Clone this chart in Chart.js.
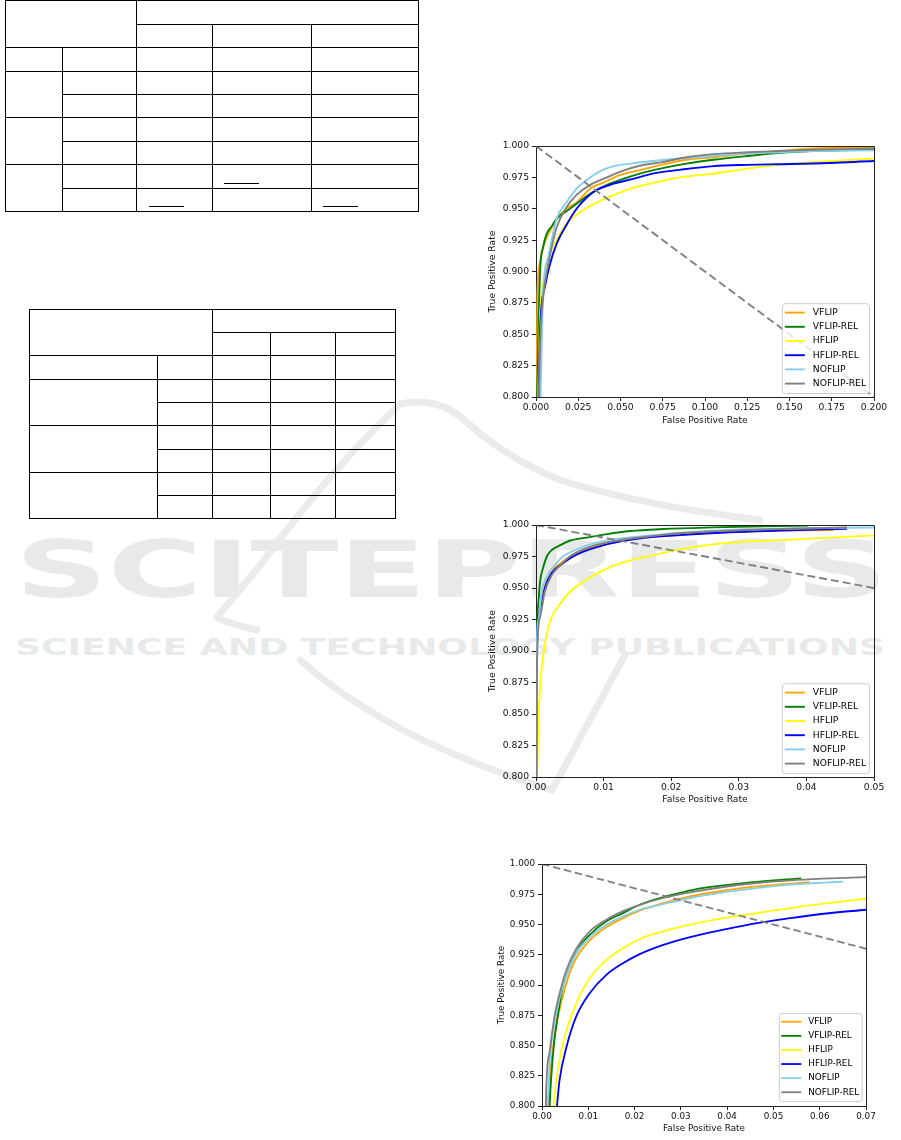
<!DOCTYPE html>
<html>
<head>
<meta charset="utf-8">
<script src="https://cdn.jsdelivr.net/npm/chart.js@4.4.1/dist/chart.umd.min.js"></script>
<style>
  body { margin: 0; width: 901px; height: 1140px; position: relative; overflow: hidden; background: #fff; font-family: "DejaVu Sans", sans-serif; }
  .wm { position: absolute; color: #e8eaea; white-space: nowrap; line-height: 1; transform-origin: 0 0; }
  #wmLogo { position: absolute; left: 0; top: 0; }
  .tbl { position: absolute; border-collapse: collapse; table-layout: fixed; }
  .tbl td { border: 1.5px solid #000; padding: 0; }
  .ul { position: absolute; height: 0; border-top: 1px solid #000; }
  .plot { position: absolute; }
</style>
</head>
<body>

<!-- publisher watermark -->
<svg id="wmLogo" width="901" height="1140">
  <g fill="none" stroke="#eaecec" stroke-width="7" stroke-linecap="round" stroke-linejoin="round">
    <path d="M257,630 Q222,622 217,617 L258,568 Q330,470 400,404 Q440,395 470,425 Q510,460 560,480 Q640,505 760,520"/>
    <path d="M300,660 Q390,740 552,790"/>
    <path d="M625,655 L552,790"/>
  </g>
</svg>
<div class="wm" id="wmBig" style="left:15px;top:531px;font-size:78px;font-weight:bold">SCITEPRESS</div>
<div class="wm" id="wmSmall" style="left:15px;top:635px;font-size:23.3px;font-weight:bold">SCIENCE AND TECHNOLOGY PUBLICATIONS</div>

<!-- table 1 -->
<table class="tbl" style="left:5px;top:0px">
  <colgroup><col style="width:57px"><col style="width:74px"><col style="width:76px"><col style="width:99px"><col style="width:107px"></colgroup>
  <tr style="height:24px"><td colspan="2" rowspan="2"></td><td colspan="3"></td></tr>
  <tr style="height:23px"><td></td><td></td><td></td></tr>
  <tr style="height:23.5px"><td></td><td></td><td></td><td></td><td></td></tr>
  <tr style="height:23.5px"><td rowspan="2"></td><td></td><td></td><td></td><td></td></tr>
  <tr style="height:23px"><td></td><td></td><td></td><td></td></tr>
  <tr style="height:24px"><td rowspan="2"></td><td></td><td></td><td></td><td></td></tr>
  <tr style="height:23px"><td></td><td></td><td></td><td></td></tr>
  <tr style="height:24px"><td rowspan="2"></td><td></td><td></td><td></td><td></td></tr>
  <tr style="height:23px"><td></td><td></td><td></td><td></td></tr>
</table>
<div class="ul" style="left:224px;top:183px;width:35px"></div>
<div class="ul" style="left:149px;top:206px;width:35px"></div>
<div class="ul" style="left:323px;top:206px;width:35px"></div>

<!-- table 2 -->
<table class="tbl" style="left:29px;top:309px">
  <colgroup><col style="width:128px"><col style="width:55px"><col style="width:58px"><col style="width:65px"><col style="width:60px"></colgroup>
  <tr style="height:23.3px"><td colspan="2" rowspan="2"></td><td colspan="3"></td></tr>
  <tr style="height:23px"><td></td><td></td><td></td></tr>
  <tr style="height:23.4px"><td></td><td></td><td></td><td></td><td></td></tr>
  <tr style="height:23.3px"><td rowspan="2"></td><td></td><td></td><td></td><td></td></tr>
  <tr style="height:23.3px"><td></td><td></td><td></td><td></td></tr>
  <tr style="height:23.7px"><td rowspan="2"></td><td></td><td></td><td></td><td></td></tr>
  <tr style="height:23.3px"><td></td><td></td><td></td><td></td></tr>
  <tr style="height:23px"><td rowspan="2"></td><td></td><td></td><td></td><td></td></tr>
  <tr style="height:23px"><td></td><td></td><td></td><td></td></tr>
</table>

<div class="plot" style="left:480px;top:130px"><canvas id="roc1" width="420" height="300"></canvas></div>
<div class="plot" style="left:480px;top:510px"><canvas id="roc2" width="420" height="300"></canvas></div>
<div class="plot" style="left:490px;top:850px"><canvas id="roc3" width="400" height="290"></canvas></div>

<script>
// series shared by all three plots
const seriesNames = ['VFLIP', 'VFLIP-REL', 'HFLIP', 'HFLIP-REL', 'NOFLIP', 'NOFLIP-REL'];
const seriesColors = ['#ffa500', '#008000', '#ffff00', '#0000ff', '#87ceeb', '#808080'];

// axis ticks
const tprTicks = [0.800, 0.825, 0.850, 0.875, 0.900, 0.925, 0.950, 0.975, 1.000];
const fprTicks1 = [0.000, 0.025, 0.050, 0.075, 0.100, 0.125, 0.150, 0.175, 0.200];
const fprTicks2 = [0.00, 0.01, 0.02, 0.03, 0.04, 0.05];
const fprTicks3 = [0.00, 0.01, 0.02, 0.03, 0.04, 0.05, 0.06, 0.07];

// dashed reference line (fpr, tpr)
const diagonal = [[0, 1], [1, 0]];

// plot 1 curves, [fpr, tpr]
const c1Vflip = [[0.0003,0.79],[0.0008,0.88],[0.002,0.905],[0.004,0.918],[0.0063,0.927],[0.0093,0.935],[0.0122,0.942],[0.018,0.950],[0.024,0.955],[0.032,0.966],[0.040,0.971],[0.050,0.977],[0.062,0.981],[0.074,0.985],[0.089,0.989],[0.105,0.991],[0.125,0.994],[0.144,0.996],[0.164,0.998],[0.2,0.999]];
const c1VflipRel = [[0.0005,0.79],[0.0014,0.85],[0.0024,0.90],[0.0043,0.92],[0.0063,0.930],[0.0093,0.936],[0.0122,0.942],[0.018,0.948],[0.024,0.954],[0.032,0.962],[0.042,0.969],[0.052,0.974],[0.064,0.979],[0.077,0.983],[0.089,0.986],[0.105,0.989],[0.125,0.992],[0.144,0.9945],[0.164,0.996],[0.2,0.997]];
const c1Hflip = [[0.0012,0.79],[0.0024,0.864],[0.0053,0.896],[0.0083,0.914],[0.0122,0.925],[0.018,0.938],[0.028,0.949],[0.036,0.955],[0.046,0.961],[0.058,0.967],[0.071,0.971],[0.085,0.975],[0.105,0.978],[0.125,0.982],[0.144,0.985],[0.164,0.987],[0.2,0.990]];
const c1HflipRel = [[0.0015,0.79],[0.0024,0.853],[0.0053,0.888],[0.0083,0.906],[0.0122,0.922],[0.018,0.937],[0.024,0.950],[0.030,0.959],[0.036,0.965],[0.046,0.970],[0.058,0.974],[0.069,0.978],[0.085,0.981],[0.105,0.984],[0.125,0.985],[0.144,0.9855],[0.164,0.986],[0.2,0.988]];
const c1Noflip = [[0.0025,0.79],[0.0043,0.885],[0.0073,0.912],[0.0122,0.942],[0.018,0.955],[0.024,0.966],[0.030,0.973],[0.038,0.980],[0.046,0.984],[0.056,0.986],[0.069,0.988],[0.085,0.990],[0.105,0.992],[0.125,0.994],[0.144,0.995],[0.164,0.996],[0.2,0.9965]];
const c1NoflipRel = [[0.0015,0.79],[0.0024,0.843],[0.0043,0.88],[0.0073,0.906],[0.0122,0.935],[0.018,0.951],[0.024,0.961],[0.032,0.969],[0.042,0.975],[0.052,0.9805],[0.062,0.9845],[0.074,0.987],[0.089,0.991],[0.105,0.9935],[0.125,0.995],[0.144,0.996],[0.164,0.997],[0.2,0.998]];

// plot 2 curves
const c2Vflip = [[0.00005,0.79],[0.0001,0.893],[0.0006,0.935],[0.0013,0.951],[0.0023,0.963],[0.0036,0.9695],[0.005,0.975],[0.007,0.980],[0.0095,0.9846],[0.0124,0.988],[0.0164,0.9907],[0.0213,0.9928],[0.0287,0.9944],[0.0361,0.9955],[0.044,0.996]];
const c2VflipRel = [[0.00005,0.79],[0.0001,0.90],[0.0003,0.935],[0.0006,0.955],[0.0011,0.967],[0.0016,0.975],[0.0023,0.980],[0.0036,0.984],[0.005,0.9875],[0.0075,0.990],[0.0105,0.9928],[0.0139,0.9952],[0.0188,0.9968],[0.0262,0.9981],[0.0336,0.999],[0.0403,0.9995]];
const c2Hflip = [[0.0001,0.79],[0.0002,0.81],[0.00035,0.842],[0.0006,0.8715],[0.0011,0.898],[0.0016,0.914],[0.0023,0.927],[0.0036,0.9377],[0.005,0.947],[0.007,0.955],[0.0095,0.963],[0.0124,0.9695],[0.0164,0.975],[0.0213,0.9807],[0.0262,0.9846],[0.031,0.9868],[0.036,0.988],[0.0435,0.990],[0.05,0.9918]];
const c2HflipRel = [[0.00005,0.79],[0.0001,0.90],[0.0006,0.932],[0.0013,0.950],[0.0023,0.9616],[0.0036,0.968],[0.005,0.9735],[0.007,0.9788],[0.0095,0.9833],[0.0124,0.9868],[0.0164,0.990],[0.0213,0.992],[0.0287,0.9942],[0.0361,0.9955],[0.046,0.997]];
const c2Noflip = [[0.00005,0.79],[0.0001,0.898],[0.00035,0.9245],[0.0008,0.9457],[0.0016,0.959],[0.0026,0.967],[0.004,0.975],[0.006,0.9807],[0.0085,0.9854],[0.0114,0.9886],[0.0149,0.9907],[0.0188,0.9928],[0.0238,0.9947],[0.031,0.9966],[0.0386,0.9974],[0.05,0.998]];
const c2NoflipRel = [[0.00005,0.79],[0.0001,0.88],[0.0006,0.927],[0.0013,0.947],[0.0023,0.960],[0.0036,0.968],[0.005,0.975],[0.007,0.9807],[0.0095,0.985],[0.0124,0.988],[0.0164,0.9907],[0.0213,0.9934],[0.0287,0.9955],[0.0361,0.9968],[0.046,0.998]];

// plot 3 curves
const c3Vflip = [[0.0013,0.79],[0.002,0.835],[0.0031,0.866],[0.0042,0.8863],[0.0056,0.9057],[0.0074,0.9222],[0.0103,0.9368],[0.0139,0.9479],[0.0175,0.9553],[0.0211,0.9614],[0.0262,0.9677],[0.032,0.9732],[0.0392,0.9779],[0.0464,0.9815],[0.0536,0.9837],[0.0578,0.985]];
const c3VflipRel = [[0.0015,0.79],[0.002,0.824],[0.0027,0.855],[0.0035,0.877],[0.0045,0.8988],[0.006,0.9153],[0.0082,0.932],[0.0103,0.9415],[0.0139,0.9526],[0.0175,0.9594],[0.0211,0.9663],[0.0247,0.971],[0.029,0.9754],[0.0334,0.9793],[0.0392,0.9823],[0.045,0.9848],[0.050,0.9865],[0.056,0.988]];
const c3Hflip = [[0.0023,0.79],[0.0031,0.8215],[0.0042,0.8463],[0.0053,0.863],[0.0074,0.885],[0.0103,0.9057],[0.0139,0.9208],[0.0175,0.9305],[0.0211,0.938],[0.0262,0.9443],[0.032,0.9498],[0.0392,0.9553],[0.0464,0.9594],[0.0536,0.9636],[0.0608,0.9672],[0.07,0.9713]];
const c3HflipRel = [[0.003,0.79],[0.0038,0.8215],[0.0053,0.849],[0.0074,0.874],[0.0103,0.8932],[0.0139,0.9084],[0.0175,0.918],[0.0211,0.9255],[0.0262,0.9332],[0.032,0.9396],[0.0392,0.9457],[0.0464,0.9512],[0.0536,0.9553],[0.0608,0.9589],[0.07,0.9622]];
const c3Noflip = [[0.0011,0.79],[0.0017,0.838],[0.0027,0.868],[0.0038,0.889],[0.0053,0.9084],[0.0074,0.9263],[0.0103,0.9393],[0.0139,0.9498],[0.0175,0.9567],[0.0211,0.9622],[0.0262,0.9669],[0.032,0.9719],[0.0392,0.9765],[0.0464,0.980],[0.0536,0.9829],[0.0608,0.9846],[0.065,0.9854]];
const c3NoflipRel = [[0.0008,0.79],[0.0009,0.813],[0.0017,0.846],[0.0027,0.874],[0.0038,0.893],[0.0053,0.9126],[0.0074,0.930],[0.0103,0.9443],[0.0139,0.954],[0.0175,0.961],[0.0211,0.9663],[0.0262,0.9719],[0.032,0.9765],[0.0392,0.981],[0.0464,0.9843],[0.0536,0.9865],[0.0608,0.9879],[0.07,0.9892]];

// stretch watermark words to their width
function fitWidth(id, w) {
  var el = document.getElementById(id);
  el.style.transform = 'scaleX(' + (w / el.getBoundingClientRect().width) + ')';
}
fitWidth('wmBig', 873);
fitWidth('wmSmall', 870);

// same pixel snapping Chart.js uses for its borders
function snap(p) { return Math.round(p - 0.5) + 0.5; }

// top and right spines
const frame = {
  id: 'frame',
  afterDraw(chart) {
    const a = chart.chartArea, ctx = chart.ctx;
    ctx.save();
    ctx.strokeStyle = '#222';
    ctx.lineWidth = 1;
    ctx.beginPath();
    ctx.moveTo(snap(a.left), snap(a.top));
    ctx.lineTo(snap(a.right), snap(a.top));
    ctx.lineTo(snap(a.right), snap(a.bottom));
    ctx.stroke();
    ctx.restore();
  }
};

// matplotlib style legend in the lower right corner of the plot
const rocLegend = {
  id: 'rocLegend',
  afterDatasetsDraw(chart, args, o) {
    const a = chart.chartArea, ctx = chart.ctx;
    const items = chart.data.datasets.filter(d => d.label);
    ctx.save();
    ctx.font = o.size + 'px "DejaVu Sans"';
    const tw = Math.max.apply(null, items.map(d => ctx.measureText(d.label).width));
    const w = o.padX * 2 + o.handle + o.gap + tw;
    const h = o.padY * 2 + items.length * o.row;
    const x0 = a.right - o.right - w, y0 = a.bottom - o.bottom - h;
    ctx.beginPath();
    ctx.roundRect(x0 + 0.5, y0 + 0.5, w, h, 3);
    ctx.fillStyle = 'rgba(255,255,255,0.8)';
    ctx.fill();
    ctx.strokeStyle = '#cccccc';
    ctx.lineWidth = 1;
    ctx.stroke();
    ctx.textBaseline = 'middle';
    items.forEach((d, i) => {
      const y = y0 + o.padY + o.row * (i + 0.5);
      ctx.beginPath();
      ctx.strokeStyle = d.borderColor;
      ctx.lineWidth = d.borderWidth;
      ctx.moveTo(x0 + o.padX, y);
      ctx.lineTo(x0 + o.padX + o.handle, y);
      ctx.stroke();
      ctx.fillStyle = '#000';
      ctx.fillText(d.label, x0 + o.padX + o.handle + o.gap, y);
    });
    ctx.restore();
  }
};

function rocChart(id, curves, fprTicks, digits, box) {
  const toPts = arr => arr.map(p => ({ x: p[0], y: p[1] }));
  const datasets = curves.map((c, i) => ({
    label: seriesNames[i],
    data: toPts(c),
    borderColor: seriesColors[i],
    borderWidth: box.lw,
    pointRadius: 0,
    cubicInterpolationMode: 'monotone',
    order: 10 - i
  }));
  datasets.push({
    label: '',
    data: toPts(diagonal),
    borderColor: '#808080',
    borderWidth: box.lw,
    borderDash: box.dash,
    pointRadius: 0,
    order: 0
  });
  const font = { family: 'DejaVu Sans', size: box.font };
  const axisGrid = { drawOnChartArea: false, tickLength: 4, color: '#222' };

  new Chart(document.getElementById(id), {
    type: 'line',
    data: { datasets: datasets },
    options: {
      responsive: false,
      animation: false,
      events: [],
      layout: { padding: { top: box.top, right: box.right, left: 0, bottom: 0 } },
      plugins: { legend: { display: false }, tooltip: { enabled: false }, rocLegend: box.legend },
      scales: {
        x: {
          type: 'linear', min: 0, max: fprTicks[fprTicks.length - 1],
          afterBuildTicks: s => { s.ticks = fprTicks.map(v => ({ value: v })); },
          afterFit: s => { s.height = box.xh; },
          ticks: { font: font, color: '#111', padding: box.xpad, maxRotation: 0, autoSkip: false, callback: v => v.toFixed(digits) },
          grid: axisGrid,
          border: { color: '#222' },
          title: { display: true, text: 'False Positive Rate', font: font, color: '#111', padding: { top: 0, bottom: box.xtp } }
        },
        y: {
          type: 'linear', min: 0.8, max: 1,
          afterBuildTicks: s => { s.ticks = tprTicks.map(v => ({ value: v })); },
          afterFit: s => { s.width = box.yw; },
          ticks: { font: font, color: '#111', padding: 3, autoSkip: false, callback: v => v.toFixed(3) },
          grid: axisGrid,
          border: { color: '#222' },
          title: { display: true, text: 'True Positive Rate', font: font, color: '#111', padding: { top: box.ytp, bottom: 0 } }
        }
      }
    },
    plugins: [frame, rocLegend]
  });
}

rocChart('roc1', [c1Vflip, c1VflipRel, c1Hflip, c1HflipRel, c1Noflip, c1NoflipRel], fprTicks1, 3, {
  top: 16, right: 26, yw: 56, xh: 33, xpad: 1.5, xtp: 3.5, ytp: 7.5, font: 9.2, lw: 1.9, dash: [8, 4],
  legend: { size: 9.2, right: 5, bottom: 4, row: 14.2, padX: 3, padY: 2.3, handle: 20, gap: 8 }
});
rocChart('roc2', [c2Vflip, c2VflipRel, c2Hflip, c2HflipRel, c2Noflip, c2NoflipRel], fprTicks2, 2, {
  top: 15, right: 26, yw: 56, xh: 33, xpad: 0.8, xtp: 4.5, ytp: 7.5, font: 9.2, lw: 1.9, dash: [8, 4],
  legend: { size: 9.2, right: 5, bottom: 4, row: 14.2, padX: 3, padY: 2.3, handle: 20, gap: 8 }
});
rocChart('roc3', [c3Vflip, c3VflipRel, c3Hflip, c3HflipRel, c3Noflip, c3NoflipRel], fprTicks3, 2, {
  top: 14, right: 24, yw: 52, xh: 34, xpad: 1.4, xtp: 6.4, ytp: 6.4, font: 8.8, lw: 1.8, dash: [7.5, 3.8],
  legend: { size: 8.8, right: 4.3, bottom: 5, row: 14.1, padX: 2.5, padY: 1.7, handle: 20, gap: 7 }
});
</script>
</body>
</html>
